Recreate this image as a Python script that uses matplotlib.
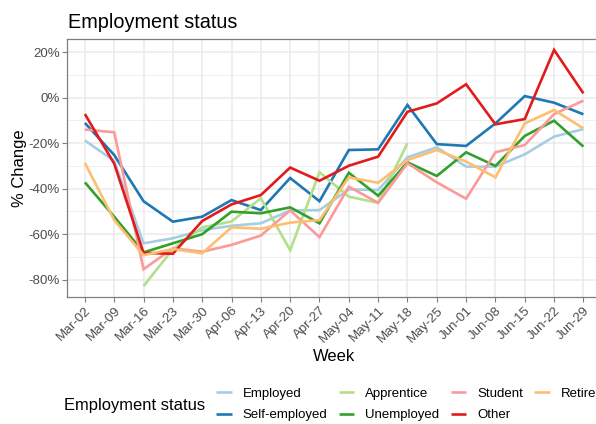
import numpy as np
import matplotlib
matplotlib.use("Agg")
import matplotlib.pyplot as plt
from matplotlib.ticker import MultipleLocator, FuncFormatter

plt.rcParams['font.family'] = ['Liberation Sans', 'DejaVu Sans']

weeks = ["Mar-02", "Mar-09", "Mar-16", "Mar-23", "Mar-30", "Apr-06", "Apr-13", "Apr-20",
         "Apr-27", "May-04", "May-11", "May-18", "May-25", "Jun-01", "Jun-08", "Jun-15",
         "Jun-22", "Jun-29"]
nan = np.nan
employed = [-18.8, -27.8, -64, -61.8, -58.2, -56.3, -55.2, -49.6, -49.4, -40.3, -40.6,
            -26.2, -21.8, -30.3, -30.3, -24.9, -17.1, -13.8]
self_employed = [-11.1, -25.2, -45.5, -54.5, -52.3, -45, -49.4, -35.3, -45.5, -23, -22.7,
                 -3.2, -20.4, -21.2, -11.3, 0.7, -2.2, -7.3]
apprentice = [nan, nan, -82.8, -66.6, -57, -54.4, -44.2, -67, -32.8, -43.5, -46.2, -20,
              nan, nan, nan, nan, nan, nan]
unemployed = [-37.2, -52.3, -68, -64, -60, -50.1, -50.8, -48.2, -55.2, -33, -43.1, -28.4,
              -34.4, -24, -30, -16.8, -10.1, -21.5]
student = [-14, -15.2, -75.4, -66.2, -67.7, -64.7, -60.6, -49.5, -61.3, -39.1, -46.2,
           -28.8, -37.2, -44.4, -24, -20.8, -7.2, -1.3]
other = [-7.2, -29, -68.2, -68.6, -54.2, -46.9, -42.8, -30.7, -36.5, -29.9, -25.9, -6.2,
         -2.5, 5.9, -11.7, -9.4, 21, 1.9]
retired = [-28.7, -53.8, -69.2, -66.5, -68.4, -57, -57.6, -54.9, -53.8, -35, -37.4,
           -27.4, -23, -28.1, -35, -11.3, -5.4, -13.5]

series = [("Employed", employed, "#A6CEE3"),
          ("Self-employed", self_employed, "#1F78B4"),
          ("Apprentice", apprentice, "#B2DF8A"),
          ("Unemployed", unemployed, "#33A02C"),
          ("Student", student, "#FB9A99"),
          ("Other", other, "#E31A1C"),
          ("Retired", retired, "#FDBF6F")]

W, H = 596, 424
fig = plt.figure(figsize=(W / 100, H / 100), dpi=100)
ax = fig.add_axes([67.3 / W, 1 - 297 / H, (601 - 67.3) / W, (297 - 39) / H])

x = np.arange(len(weeks))
handles = []
for name, vals, col in series:
    h, = ax.plot(x, vals, color=col, lw=1.9, label=name, solid_capstyle='butt',
                 solid_joinstyle='miter')
    handles.append(h)

ax.set_xlim(-0.6, len(weeks) - 1 + 0.6)
ax.set_ylim(-87.6, 25.8)
ax.set_xticks(x)
ax.set_xticklabels(weeks, rotation=45, ha='right', va='top', rotation_mode='anchor')
ax.yaxis.set_major_locator(MultipleLocator(20))
ax.yaxis.set_minor_locator(MultipleLocator(10))
ax.yaxis.set_major_formatter(FuncFormatter(lambda v, p: f"{int(round(v))}%"))

ax.grid(True, which='major', color='#EBEBEB', lw=1.1)
ax.grid(True, which='minor', axis='y', color='#EBEBEB', lw=0.55)
ax.set_axisbelow(True)
for s in ax.spines.values():
    s.set_color('#7F7F7F')
    s.set_linewidth(0.9)
ax.tick_params(axis='both', which='major', color='#7F7F7F', length=3.5, width=0.8,
               labelsize=9.6, labelcolor='#4D4D4D', pad=2)
ax.tick_params(axis='y', which='minor', length=0)

ax.set_xlabel("Week", fontsize=11.9, labelpad=3)
ax.set_ylabel("% Change", fontsize=11.9, labelpad=1)

fig.text(67.5 / W, 1 - 28 / H, "Employment status", fontsize=14.3, ha='left', va='baseline')

fig.text(64 / W, 1 - 405.5 / H, "Employment status", fontsize=11.9, ha='left', va='center')
fig.legend(handles=handles, loc='center left', bbox_to_anchor=(216 / W, 1 - 404.5 / H),
           ncol=4, frameon=False, fontsize=9.5, handlelength=1.2, handletextpad=0.8,
           columnspacing=0.87, labelspacing=0.7, borderpad=0, borderaxespad=0)

fig.savefig("out.png", dpi=100)
